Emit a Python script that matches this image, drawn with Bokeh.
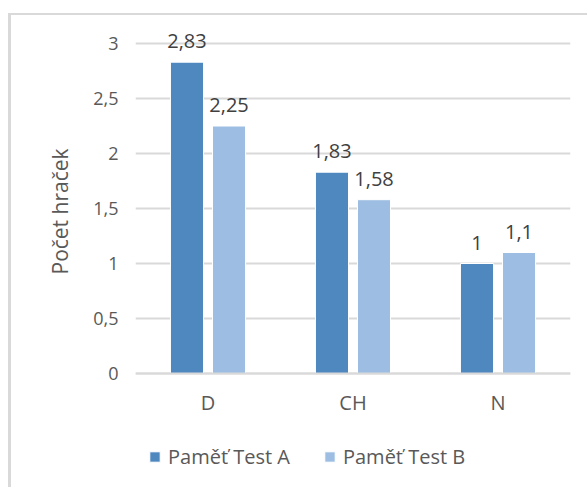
from bokeh.plotting import figure
from bokeh.models import (ColumnDataSource, Range1d, FixedTicker, LabelSet, Legend, LegendItem,
                          Title, LinearAxis)
from bokeh.transform import dodge
from bokeh.core.properties import value
from bokeh.embed import file_html
from bokeh.resources import INLINE

categories = ["D", "CH", "N"]
test_a = [2.83, 1.83, 1.0]
test_b = [2.25, 1.58, 1.1]
series_names = ["Paměť Test A", "Paměť Test B"]
y_ticks = [0, 0.5, 1, 1.5, 2, 2.5, 3]
y_tick_labels = ["0", "0,5", "1", "1,5", "2", "2,5", "3"]
y_title = "Počet hraček"

def fmt(v):
    return f"{v:g}".replace(".", ",")

src = ColumnDataSource(dict(
    cat=categories, a=test_a, b=test_b,
    la=[fmt(v) for v in test_a], lb=[fmt(v) for v in test_b],
))

FONT = "Open Sans"
GRAY = "#595959"
GRID = "#d9d9d9"
CA = "#4F87BF"
CB = "#9DBEE2"

# frame: x 135..570, y 21..487 ; value 0 at y=373, 110 px per unit
p = figure(x_range=categories, y_range=Range1d(-114 / 110, 3.2), width=587, height=487,
           output_backend="svg", toolbar_location=None,
           min_border_left=135, min_border_right=17, min_border_top=21, min_border_bottom=0)
p.outline_line_color = None
p.background_fill_color = "white"
p.border_fill_color = None
p.styles = {
    "background-image": "linear-gradient(#d9d9d9, #d9d9d9), linear-gradient(#d9d9d9, #d9d9d9)",
    "background-size": "100% 2px, 3px 100%",
    "background-position": "8px 13px, 8px 13px",
    "background-repeat": "no-repeat",
}

ra = p.vbar(x=dodge("cat", -0.145, range=p.x_range), top="a", width=0.228, source=src,
            fill_color=CA, line_color="white", line_width=1)
rb = p.vbar(x=dodge("cat", 0.145, range=p.x_range), top="b", width=0.228, source=src,
            fill_color=CB, line_color="white", line_width=1)

for col, lab, off in (("a", "la", -0.145), ("b", "lb", 0.145)):
    p.add_layout(LabelSet(x=dodge("cat", off, range=p.x_range), y=col, text=lab, source=src,
                          text_align="center", text_baseline="alphabetic", y_offset=14,
                          text_font=value(FONT), text_font_size=value("20px"),
                          text_color="#404040"))

p.yaxis.ticker = FixedTicker(ticks=y_ticks)
p.yaxis.major_label_overrides = {t: l for t, l in zip(y_ticks, y_tick_labels)}
p.yaxis.axis_line_color = None
p.yaxis.major_tick_line_color = None
p.yaxis.minor_tick_line_color = None
p.yaxis.major_tick_out = 0
p.yaxis.minor_tick_out = 0
p.yaxis.major_label_standoff = 17
p.yaxis.major_label_text_font = FONT
p.yaxis.major_label_text_font_size = "18px"
p.yaxis.major_label_text_color = GRAY

# y-axis title, centred on the 0..3 value span
ytitle = Title(text=y_title, align="left", offset=213, standoff=34,
               text_font=FONT, text_font_size="21px", text_font_style="normal",
               text_color=GRAY)
# empty outer axis used only as a fixed-width spacer at the left edge
spacer = LinearAxis(ticker=FixedTicker(ticks=[]), axis_line_color=None,
                    major_tick_line_color=None, minor_tick_line_color=None,
                    major_tick_in=0, major_tick_out=24, minor_tick_in=0, minor_tick_out=0,
                    major_label_standoff=0)
p.left = list(p.left) + [ytitle, spacer]

p.xaxis.fixed_location = 0
p.xaxis.axis_line_color = GRID
p.xaxis.axis_line_width = 2
p.xaxis.major_tick_line_color = None
p.xaxis.minor_tick_line_color = None
p.xaxis.major_label_standoff = 9
p.xaxis.major_label_text_font = FONT
p.xaxis.major_label_text_font_size = "20px"
p.xaxis.major_label_text_color = GRAY

p.xgrid.grid_line_color = None
p.ygrid.ticker = FixedTicker(ticks=y_ticks)
p.ygrid.grid_line_color = GRID
p.ygrid.grid_line_width = 2

legend = Legend(items=[LegendItem(label=series_names[0], renderers=[ra]),
                       LegendItem(label=series_names[1], renderers=[rb])],
                orientation="horizontal", location=(13, 17), margin=0, padding=0,
                spacing=33, label_standoff=7, glyph_width=13, glyph_height=13,
                label_text_font=FONT, label_text_font_size="20px", label_text_color=GRAY,
                border_line_color=None, background_fill_alpha=0)
p.add_layout(legend)

open("out.html", "w").write(file_html(p, INLINE))
